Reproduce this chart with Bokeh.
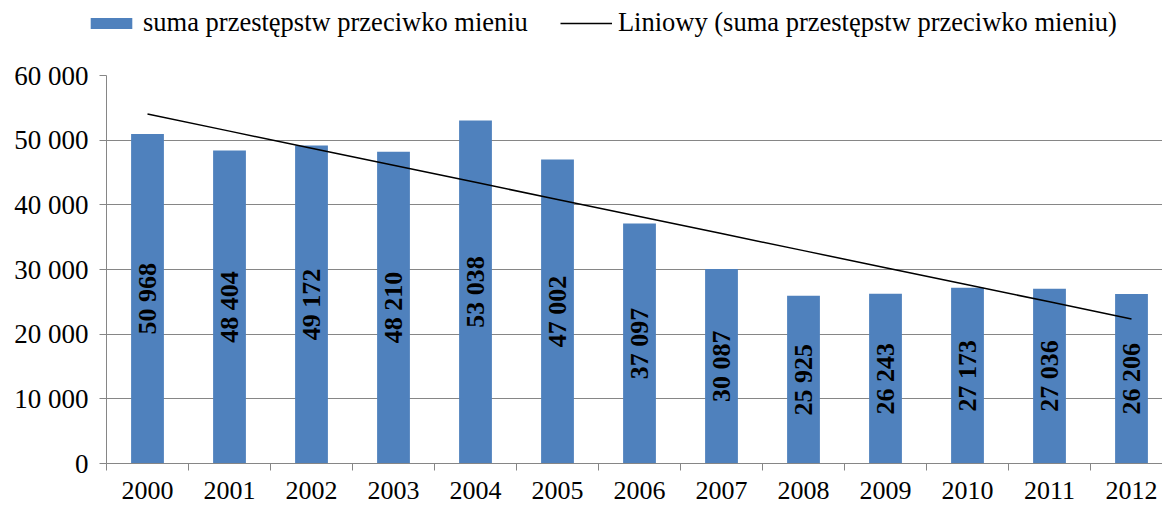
import numpy as np
from bokeh.plotting import figure
from bokeh.layouts import column, row
from bokeh.models import ColumnDataSource, FixedTicker, Legend, LegendItem, Range1d
from bokeh.core.properties import value
from bokeh.embed import file_html
from bokeh.resources import INLINE

years = ["2000", "2001", "2002", "2003", "2004", "2005", "2006", "2007", "2008", "2009", "2010", "2011", "2012"]
values = [50968, 48404, 49172, 48210, 53038, 47002, 37097, 30087, 25925, 26243, 27173, 27036, 26206]
y_ticks = [0, 10000, 20000, 30000, 40000, 50000, 60000]
series_name = "suma przestępstw przeciwko mieniu"
trend_name = "Liniowy (suma przestępstw przeciwko mieniu)"

FONT = "Liberation Serif"
BLUE = "#4F81BD"
GRID = "#868686"

def fmt(v):
    return f"{v:,}".replace(",", " ")

x = list(range(len(years)))
src = ColumnDataSource(dict(
    x=x, top=values, mid=[v / 2 for v in values], lab=[fmt(v) for v in values]))

coef = np.polyfit(x, values, 1)
trend = np.polyval(coef, x)

TOTAL_W = 1162
LEG_H = 46
MAIN_H = 505 - LEG_H
LEFT = 106
FRAME_W = TOTAL_W - LEFT

# ---- legend strip ----
lg = figure(width=TOTAL_W, height=LEG_H, output_backend="svg", toolbar_location=None,
            x_range=Range1d(0, 1), y_range=Range1d(0, 1),
            min_border_left=0, min_border_right=0, min_border_top=0, min_border_bottom=0)
lg.axis.visible = False
lg.grid.visible = False
lg.outline_line_color = None
lg.border_fill_color = "white"
lg_bar = lg.vbar(x=[5], top=[1], width=0.4, fill_color=BLUE, line_color=None)
lg_line = lg.line(x=[5, 6], y=[0.5, 0.5], line_color="black", line_width=1.5)
legend = Legend(items=[LegendItem(label=series_name, renderers=[lg_bar]),
                       LegendItem(label=trend_name, renderers=[lg_line])],
                orientation="horizontal", location=(85, 8),
                label_text_font=FONT, label_text_font_size="26.5px", label_text_color="black",
                glyph_width=52, glyph_height=14, spacing=32, label_standoff=6,
                border_line_color=None, background_fill_alpha=0, padding=0, margin=0)
lg.add_layout(legend, "center")

# ---- main chart ----
p = figure(width=TOTAL_W, height=MAIN_H, output_backend="svg", toolbar_location=None,
           x_range=Range1d(-0.5, -0.5 + FRAME_W / 82.0), y_range=Range1d(0, 60000),
           min_border_left=LEFT, min_border_right=0, min_border_top=75 - LEG_H,
           min_border_bottom=MAIN_H - (463 - LEG_H))
p.outline_line_color = None
p.background_fill_color = "white"
p.border_fill_color = "white"

p.xgrid.visible = False
p.ygrid.ticker = FixedTicker(ticks=y_ticks)
p.ygrid.grid_line_color = GRID
p.ygrid.grid_line_width = 1

bars = p.vbar(x="x", top="top", width=0.40, source=src, fill_color=BLUE, line_color=None)
line = p.line(x, list(trend), line_color="black", line_width=1.5)

p.text(x="x", y="mid", text="lab", source=src, angle=np.pi / 2,
       text_align="center", text_baseline="middle",
       text_font=value(FONT), text_font_style="bold", text_font_size="26px", text_color="black")

xa = p.xaxis[0]
xa.ticker = FixedTicker(ticks=x, minor_ticks=[i - 0.5 for i in range(len(years) + 1)])
xa.major_label_overrides = {i: y for i, y in enumerate(years)}
xa.major_tick_out = 0
xa.major_tick_in = 0
xa.minor_tick_out = 7
xa.minor_tick_in = 0
xa.minor_tick_line_color = GRID
xa.axis_line_color = GRID
xa.major_label_standoff = 11
xa.major_label_text_font = FONT
xa.major_label_text_font_size = "26px"
xa.major_label_text_color = "black"

ya = p.yaxis[0]
ya.ticker = FixedTicker(ticks=y_ticks)
ya.major_label_overrides = {t: fmt(t) for t in y_ticks}
ya.major_tick_out = 7
ya.major_tick_in = 0
ya.minor_tick_line_color = None
ya.major_tick_line_color = GRID
ya.axis_line_color = GRID
ya.major_label_standoff = 11
ya.major_label_text_font = FONT
ya.major_label_text_font_size = "27px"
ya.major_label_text_color = "black"

layout = column(row(lg, spacing=0), p, spacing=0)
open("out.html", "w").write(file_html(layout, INLINE))
